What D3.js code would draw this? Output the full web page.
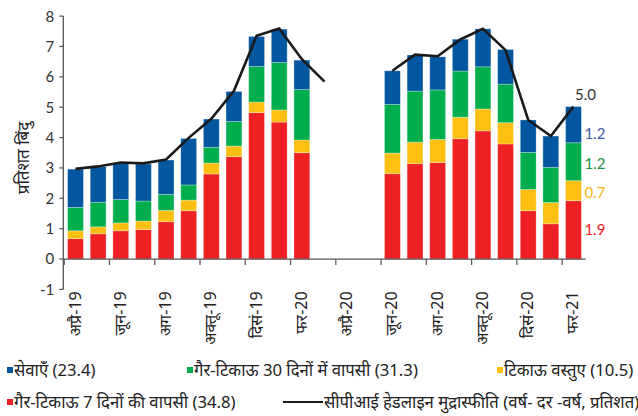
<!DOCTYPE html>
<html lang="hi">
<head>
<meta charset="UTF-8" />
<title>CPI contribution chart</title>
<script src="https://d3js.org/d3.v7.min.js"></script>
<style>
  body { margin: 0; background: #fff; }
  svg { display: block; }
  .tick-num { font-family: Lato, "Noto Sans", sans-serif; font-size: 15px; fill: #333; }
  .hi { font-family: "Liberation Sans Narrow", "Noto Sans", "DejaVu Sans", sans-serif; fill: #222; }
</style>
</head>
<body>
<svg id="chart" width="638" height="416"></svg>
<script>
// ---- data ----
const months = ["Apr-19","May-19","Jun-19","Jul-19","Aug-19","Sep-19","Oct-19","Nov-19","Dec-19","Jan-20","Feb-20","Mar-20",
                "Apr-20","May-20","Jun-20","Jul-20","Aug-20","Sep-20","Oct-20","Nov-20","Dec-20","Jan-21","Feb-21"];
const monthLabels = ["अप्रै-19","","जून-19","","अग-19","","अक्तू-19","","दिसं-19","","फर-20","",
                     "अप्रै-20","","जून-20","","अग-20","","अक्तू-20","","दिसं-20","","फर-21"];
// null = no bar for that month
const nonDurable7  = [0.67,0.83,0.93,0.97,1.23,1.59,2.80,3.37,4.82,4.51,3.50,null,null,null,2.81,3.14,3.18,3.96,4.22,3.79,1.59,1.16,1.92];
const durables     = [0.26,0.23,0.26,0.28,0.37,0.35,0.36,0.35,0.35,0.40,0.42,null,null,null,0.68,0.71,0.76,0.71,0.72,0.70,0.70,0.70,0.66];
const nonDurable30 = [0.77,0.81,0.77,0.66,0.53,0.50,0.52,0.81,1.17,1.56,1.66,null,null,null,1.60,1.68,1.63,1.52,1.39,1.27,1.22,1.16,1.25];
const services     = [1.26,1.17,1.19,1.22,1.13,1.53,0.93,0.99,0.99,1.10,0.97,null,null,null,1.11,1.19,1.09,1.05,1.25,1.14,1.07,1.03,1.19];
const cpi          = [2.97,3.05,3.18,3.15,3.28,3.99,4.62,5.54,7.35,7.59,6.58,5.84,null,null,6.20,6.73,6.68,7.23,7.58,6.88,4.58,4.05,5.02];
const yTicks = [-1,0,1,2,3,4,5,6,7,8];

const series = [
  { key: "nd7",  values: nonDurable7,  color: "#ed2024", label: "गैर-टिकाऊ 7 दिनों की वापसी (34.8)", note: "1.9", noteColor: "#ed2024", noteShift: 0 },
  { key: "dur",  values: durables,     color: "#fdbf12", label: "टिकाऊ वस्तुए (10.5)", note: "0.7", noteColor: "#f8b717", noteShift: 1.5 },
  { key: "nd30", values: nonDurable30, color: "#00ae4d", label: "गैर-टिकाऊ 30 दिनों में वापसी (31.3)", note: "1.2", noteColor: "#19924a", noteShift: 1.5 },
  { key: "serv", values: services,     color: "#0257a0", label: "सेवाएँ (23.4)", note: "1.2", noteColor: "#3e5cab", noteShift: 9 }
];

// ---- setup ----
const svg = d3.select("#chart");
const x = d3.scaleBand().domain(months).range([63.3, 585.7]).paddingInner(0.3).paddingOuter(0.19);
const y = d3.scaleLinear().domain([-1, 8]).range([289.4, 16.1]);
const cx = m => x(m) + x.bandwidth() / 2;

// stacked bars
const rows = months.map((m, i) => {
  const r = { month: m };
  series.forEach(s => { r[s.key] = s.values[i] == null ? 0 : s.values[i]; });
  return r;
});
const stack = d3.stack().keys(series.map(s => s.key))(rows);

const gBars = svg.append("g");
stack.forEach((layer, li) => {
  gBars.append("g")
    .attr("fill", series[li].color)
    .selectAll("rect")
    .data(layer.filter(d => d[1] > d[0]))
    .join("rect")
    .attr("x", d => x(d.data.month))
    .attr("width", x.bandwidth())
    .attr("y", d => y(d[1]))
    .attr("height", d => y(d[0]) - y(d[1]))
    .attr("stroke", "#ffffff")
    .attr("stroke-opacity", 0.35)
    .attr("stroke-width", 0.8);
});

// axes
const axisColor = "#555";
const gAxis = svg.append("g");
gAxis.append("line")
  .attr("x1", x.range()[0]).attr("x2", x.range()[1])
  .attr("y1", y(0)).attr("y2", y(0))
  .attr("stroke", axisColor).attr("stroke-width", 1.3);
gAxis.append("line")
  .attr("x1", x.range()[0]).attr("x2", x.range()[0])
  .attr("y1", y(8)).attr("y2", y(-1))
  .attr("stroke", axisColor).attr("stroke-width", 1.3);

// y ticks
gAxis.selectAll(".yt").data(yTicks).join("line")
  .attr("x1", x.range()[0] - 4).attr("x2", x.range()[0])
  .attr("y1", d => y(d)).attr("y2", d => y(d))
  .attr("stroke", axisColor).attr("stroke-width", 1.2);
gAxis.selectAll(".yl").data(yTicks).join("text")
  .attr("class", "tick-num")
  .attr("font-size", 16)
  .attr("x", x.range()[0] - 9)
  .attr("y", d => y(d))
  .attr("dy", "0.36em")
  .attr("text-anchor", "end")
  .text(d => d);

// x ticks every 2 months
const tickMonths = months.filter((m, i) => i % 2 === 0);
gAxis.selectAll(".xt").data(tickMonths).join("line")
  .attr("x1", d => x(d) - x.step() * x.paddingInner() / 2)
  .attr("x2", d => x(d) - x.step() * x.paddingInner() / 2)
  .attr("y1", y(0)).attr("y2", y(0) + 6)
  .attr("stroke", axisColor).attr("stroke-width", 1.2);

// x labels, rotated
gAxis.selectAll(".xl").data(months.filter((m, i) => monthLabels[i])).join("text")
  .attr("class", "hi")
  .attr("font-size", 16)
  .attr("text-anchor", "end")
  .attr("transform", d => `translate(${cx(d) + 5},${y(-1) + 2}) rotate(-90)`)
  .text(d => monthLabels[months.indexOf(d)]);

// y title
svg.append("text")
  .attr("class", "hi")
  .attr("font-size", 17)
  .attr("text-anchor", "middle")
  .attr("transform", `translate(29,158) rotate(-90)`)
  .text("प्रतिशत बिंदु");

// CPI line (with gap)
const line = d3.line()
  .defined(d => d.v != null)
  .x(d => cx(d.m))
  .y(d => y(d.v));
svg.append("path")
  .datum(months.map((m, i) => ({ m: m, v: cpi[i] })))
  .attr("d", line)
  .attr("fill", "none")
  .attr("stroke", "#1a1a1a")
  .attr("stroke-width", 2.6)
  .attr("stroke-linejoin", "miter");

// annotations for the last month
const lastM = months[months.length - 1];
const lastI = months.length - 1;
svg.append("text")
  .attr("class", "tick-num")
  .attr("font-size", 16)
  .attr("x", cx(lastM) + 12)
  .attr("y", y(cpi[lastI]) - 7)
  .attr("text-anchor", "middle")
  .attr("fill", "#222")
  .text(cpi[lastI].toFixed(1));

const lastStack = stack.map(l => l[lastI]);
series.forEach((s, li) => {
  const d = lastStack[li];
  svg.append("text")
    .attr("class", "tick-num")
    .attr("font-size", 16)
    .style("fill", s.noteColor)
    .attr("x", x(lastM) + x.bandwidth() + 3)
    .attr("y", y((d[0] + d[1]) / 2) + s.noteShift)
    .attr("dy", "0.36em")
    .text(s.note);
});

// legend
const legendRows = [
  [ { s: series[3], x: 7 }, { s: series[2], x: 187 }, { s: series[1], x: 497 } ],
  [ { s: series[0], x: 7 }, { line: true, x: 283, label: "सीपीआई हेडलाइन मुद्रास्फीति (वर्ष- दर -वर्ष, प्रतिशत)" } ]
];
const legendY = [370, 402];
legendRows.forEach((row, ri) => {
  row.forEach(item => {
    const g = svg.append("g").attr("transform", `translate(${item.x},${legendY[ri]})`);
    if (item.line) {
      g.append("line").attr("x1", 0).attr("x2", 40).attr("y1", 0).attr("y2", 0)
        .attr("stroke", "#1a1a1a").attr("stroke-width", 2);
      g.append("text").attr("class", "hi").attr("font-size", 16.7)
        .attr("x", 41).attr("dy", "0.35em").text(item.label);
    } else {
      g.append("rect").attr("x", 0).attr("y", -3).attr("width", 6).attr("height", 6)
        .attr("fill", item.s.color);
      g.append("text").attr("class", "hi").attr("font-size", 16.7)
        .attr("x", 7).attr("dy", "0.35em").text(item.s.label);
    }
  });
});
</script>
</body>
</html>
